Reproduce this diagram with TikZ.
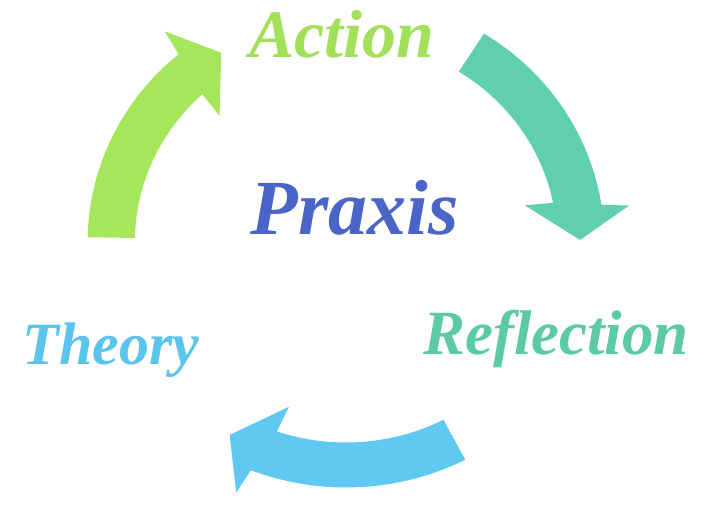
\documentclass[tikz,border=0pt]{standalone}
\usepackage{fontspec}
\usepackage{tikz}
\newfontfamily\labelfamily{Liberation Serif}
\newcommand\labelfont{\labelfamily\bfseries\itshape}
\definecolor{agreen}{HTML}{A6E65A}
\definecolor{ateal}{HTML}{5FCFB0}
\definecolor{ablue}{HTML}{5FC9F2}
\definecolor{tgreen}{HTML}{A3E05A}
\definecolor{tteal}{HTML}{5CC9A7}
\definecolor{tblue}{HTML}{5BC4EC}
\definecolor{tpraxis}{HTML}{4B64C8}
% #1 colour, #2 tail angle, #3 head base angle (clockwise arrows)
\newcommand\cyclearrow[3]{%
  \fill[#1] (#2:201) -- (#2:246)
    arc[start angle=#2, end angle=#3-1.1, radius=246]
    -- (#3-2.1:272) -- (#3-9.3:223) -- (#3+2.3:174) -- (#3+1.4:201)
    arc[start angle=#3+1.4, end angle=#2, radius=201] -- cycle;}
\tikzset{
  cyclelabel/.style={anchor=base, inner sep=0pt}
}
\begin{document}
\begin{tikzpicture}[x=1pt, y=1pt]
  \useasboundingbox (0,0) rectangle (705,520);
  \begin{scope}[shift={(346,278.5)}, xscale=1.05]
    \cyclearrow{agreen}{179}{131.5}
    \cyclearrow{ateal}{57.7}{9.7}
    \cyclearrow{ablue}{-62.5}{-110.5}
  \end{scope}
  \node[cyclelabel, text=tgreen, font=\labelfont\fontsize{68}{80}\selectfont] (action) at (342,462) {Action};
  \node[cyclelabel, text=tpraxis, font=\labelfont\fontsize{78}{90}\selectfont] (praxis) at (355,285) {Praxis};
  \node[cyclelabel, text=tteal, font=\labelfont\fontsize{63}{75}\selectfont] (reflection) at (556,165) {Reflection};
  \node[cyclelabel, text=tblue, font=\labelfont\fontsize{60}{72}\selectfont] (theory) at (111,155) {Theory};
\end{tikzpicture}
\end{document}
